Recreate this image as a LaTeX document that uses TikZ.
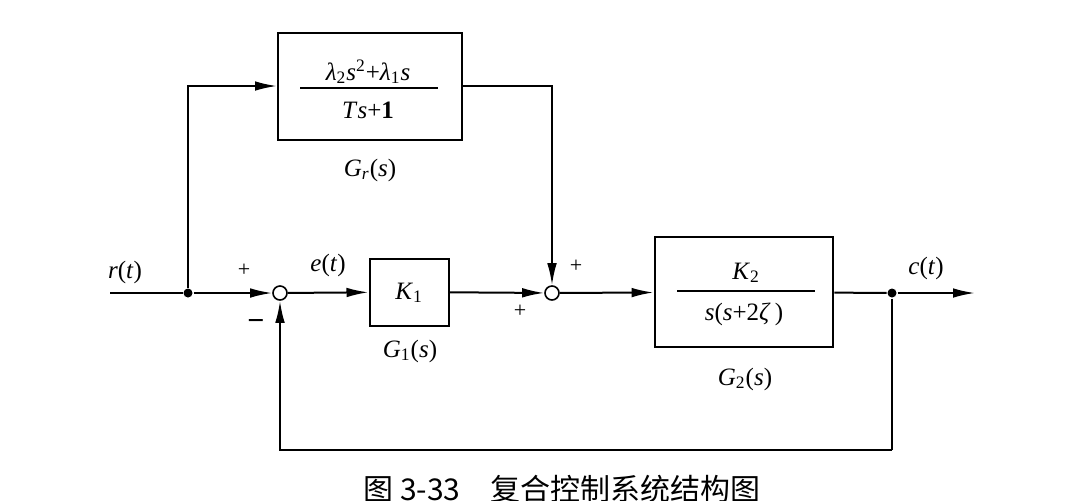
\documentclass[tikz,border=0pt]{standalone}
\usepackage{fontspec}
\setmainfont{Liberation Serif}
\newfontfamily\cjk{Noto Sans CJK SC}
\usetikzlibrary{arrows.meta}
\newcommand\vi[1]{\textit{#1}}
\tikzset{
  arr/.style={-{Latex[length=11pt,width=4.8pt]}},
  blk/.style={draw,line width=1pt,inner sep=0pt},
  sumc/.style={draw,circle,line width=0.8pt,minimum size=7pt,inner sep=0pt,fill=white},
  jdot/.style={circle,fill=black,minimum size=4.5pt,inner sep=0pt},
  lbl/.style={font=\fontsize{12.5}{14}\selectfont,inner sep=1pt},
  sml/.style={font=\fontsize{11}{13}\selectfont,inner sep=1pt},
  frline/.style={line width=0.8pt}
}
\begin{document}
\begin{tikzpicture}[x=0.5pt,y=-0.5pt,line width=1pt]
\useasboundingbox (0,0) rectangle (1070,500);
\fill[white] (0,0) rectangle (1070,500);
% blocks
\node[blk,minimum width=92pt,minimum height=53.5pt] (gr) at (370,86) {};
\node[blk,minimum width=39.5pt,minimum height=33.5pt] (k1) at (409,292) {};
\node[blk,line width=1.4pt,minimum width=89pt,minimum height=55pt] (g2) at (744,292) {};
% summers and dots
\node[sumc] (s1) at (280,293) {};
\node[sumc] (s2) at (552,293) {};
\node[jdot] (d1) at (188,293) {};
\node[jdot] (d2) at (892,293) {};
\coordinate (rin) at (110,293);
\coordinate (cout) at (975,293);
\coordinate (fbr) at (892,450);
% fractions
\node[lbl] (grnum) at (368,72) {\vi{λ}\textsubscript{2}\vi{s}\textsuperscript{2}+\vi{λ}\textsubscript{1}\vi{s}};
\coordinate (grl1) at (300,88);
\coordinate (grl2) at (438,88);
\draw[frline] (grl1) -- (grl2);
\node[lbl] (grden) at (368,110) {\vi{T}\vi{s}+\textbf{1}};
\node[lbl] (k1txt) at (409,293) {\vi{K}\textsubscript{1}};
\node[lbl] (g2num) at (746,273) {\vi{K}\textsubscript{2}};
\coordinate (g2l1) at (677,291);
\coordinate (g2l2) at (815,291);
\draw[frline] (g2l1) -- (g2l2);
\node[lbl] (g2den) at (744,314) {\vi{s}(\vi{s}+2\vi{ζ}\,)};
% labels
\node[lbl] (lgr) at (370,170) {\vi{G}\textsubscript{\vi{r}}(\vi{s})};
\node[lbl] (lg1) at (410,351) {\vi{G}\textsubscript{1}(\vi{s})};
\node[lbl] (lg2) at (745,379) {\vi{G}\textsubscript{2}(\vi{s})};
\node[lbl] (lr) at (125,272) {\vi{r}(\vi{t})};
\node[lbl] (le) at (328,265) {\vi{e}(\vi{t})};
\node[lbl] (lc) at (926,268) {\vi{c}(\vi{t})};
\node[sml] (p1) at (244,270) {+};
\node[font=\fontsize{15}{16}\selectfont,inner sep=1pt] (m1) at (256,325) {\textbf{−}};
\node[sml] (p2) at (520,311) {+};
\node[sml] (p3) at (576,266) {+};
% connectors
\draw (rin) -- (d1);
\draw[arr] (d1) -- (s1);
\draw[arr] (s1) -- (k1);
\draw[arr] (k1) -- (s2);
\draw[arr] (s2) -- (g2);
\draw (g2) -- (d2);
\draw[arr] (d2) -- (cout);
\draw[arr] (d1) |- (gr.west);
\draw[arr] (gr.east) -| (s2.north);
\draw (d2) -- (fbr);
\draw[arr] (fbr) -| (s1.south);
% caption (cut off at the bottom edge, as in the reference)
\node[font=\cjk\fontsize{15}{18}\selectfont] (cap) at (562,489) {图 3-33\quad 复合控制系统结构图};
\end{tikzpicture}
\end{document}
